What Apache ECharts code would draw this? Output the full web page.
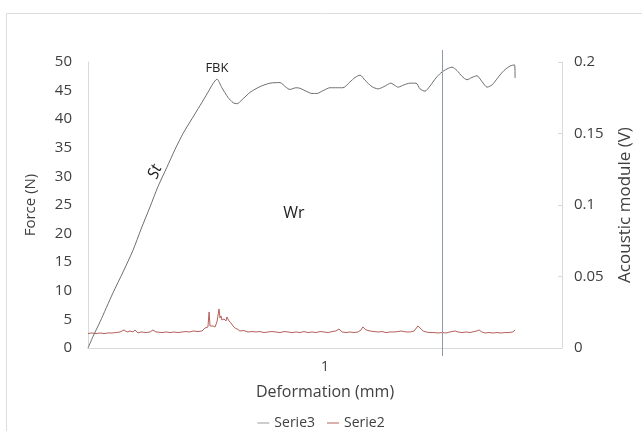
<!DOCTYPE html>
<html>
<head>
<meta charset="utf-8">
<script src="https://cdn.jsdelivr.net/npm/echarts@6/dist/echarts.min.js"></script>
<style>
html,body{margin:0;padding:0;background:#fff;}
#c{width:642px;height:431px;}
</style>
</head>
<body>
<div id="c"></div>
<script>
// Deformation (mm, axis units) and Force (N) — Serie3
const forceDef = [0.000,0.021,0.051,0.105,0.148,0.190,0.224,0.262,0.295,0.333,0.367,0.401,0.439,0.473,0.506,0.527,0.544,0.565,0.591,0.612,0.629,0.650,0.684,0.726,0.768,0.810,0.835,0.852,0.878,0.895,0.920,0.945,0.966,0.992,1.021,1.046,1.076,1.105,1.127,1.148,1.169,1.198,1.224,1.249,1.278,1.295,1.308,1.333,1.359,1.384,1.401,1.422,1.443,1.468,1.489,1.515,1.536,1.557,1.578,1.599,1.620,1.641,1.662,1.684,1.705,1.730,1.755,1.781,1.800,1.802];
const forceVal = [0.0,2.0,4.6,9.6,13.3,17.1,20.8,24.7,28.2,31.6,34.7,37.5,40.1,42.4,44.7,46.2,47.0,45.5,43.8,42.9,42.7,43.4,44.7,45.7,46.3,46.4,45.6,45.2,45.5,45.4,44.9,44.5,44.5,45.0,45.5,45.5,45.5,46.5,47.3,47.7,46.8,45.7,45.3,45.7,46.3,45.9,45.6,46.0,46.3,46.3,45.3,44.9,45.8,47.2,48.1,48.8,49.1,48.5,47.5,46.9,47.3,47.6,46.6,45.6,46.0,47.3,48.5,49.3,49.5,47.2];

// Deformation and Acoustic module (V) — Serie2
const acDef = [0.000,0.017,0.034,0.051,0.068,0.084,0.101,0.118,0.135,0.143,0.152,0.165,0.177,0.190,0.198,0.211,0.224,0.232,0.245,0.262,0.274,0.287,0.295,0.312,0.329,0.346,0.363,0.380,0.397,0.414,0.430,0.443,0.451,0.464,0.481,0.494,0.502,0.506,0.511,0.515,0.519,0.527,0.536,0.544,0.553,0.557,0.561,0.565,0.574,0.582,0.586,0.595,0.603,0.612,0.620,0.629,0.641,0.658,0.675,0.692,0.709,0.726,0.743,0.759,0.776,0.793,0.810,0.827,0.844,0.861,0.878,0.895,0.911,0.928,0.945,0.962,0.979,0.996,1.013,1.030,1.046,1.059,1.072,1.089,1.105,1.122,1.139,1.152,1.160,1.173,1.190,1.207,1.224,1.241,1.257,1.274,1.291,1.308,1.321,1.329,1.342,1.359,1.376,1.384,1.392,1.401,1.414,1.426,1.443,1.460,1.477,1.494,1.511,1.527,1.549,1.561,1.578,1.595,1.612,1.629,1.641,1.650,1.662,1.675,1.692,1.709,1.726,1.743,1.759,1.776,1.793,1.802];
const acVal = [0.0101,0.0105,0.0101,0.0105,0.0101,0.0105,0.0105,0.0108,0.0112,0.0119,0.0126,0.0112,0.0119,0.0112,0.0126,0.0105,0.0112,0.0119,0.0108,0.0112,0.0126,0.0112,0.0105,0.0108,0.0112,0.0108,0.0112,0.0108,0.0112,0.0115,0.0112,0.0119,0.0126,0.0115,0.0119,0.0140,0.0133,0.0147,0.0252,0.0154,0.0147,0.0154,0.0147,0.0182,0.0273,0.0210,0.0224,0.0196,0.0203,0.0189,0.0217,0.0189,0.0175,0.0154,0.0140,0.0133,0.0119,0.0122,0.0112,0.0115,0.0112,0.0115,0.0108,0.0112,0.0115,0.0112,0.0108,0.0115,0.0112,0.0108,0.0112,0.0108,0.0115,0.0108,0.0112,0.0108,0.0115,0.0112,0.0108,0.0115,0.0119,0.0133,0.0112,0.0108,0.0112,0.0108,0.0112,0.0126,0.0147,0.0126,0.0119,0.0115,0.0112,0.0115,0.0108,0.0112,0.0112,0.0115,0.0119,0.0126,0.0112,0.0112,0.0119,0.0126,0.0154,0.0140,0.0119,0.0112,0.0108,0.0108,0.0105,0.0108,0.0105,0.0112,0.0119,0.0112,0.0108,0.0112,0.0108,0.0115,0.0119,0.0126,0.0112,0.0105,0.0108,0.0105,0.0108,0.0105,0.0108,0.0108,0.0112,0.0126];

const markerDef = 1.492;
const xLabels = {1: '1'};
const leftTicks = {min: 0, max: 50, interval: 5};
const rightTicks = {min: 0, max: 0.2, interval: 0.05};

const FONT = '"Open Sans", "Noto Sans", sans-serif';
const TXT = '#404040';

const chart = echarts.init(document.getElementById('c'), null, {renderer: 'canvas'});
const zip = (a, b) => a.map((v, i) => [v, b[i]]);

chart.setOption({
  animation: false,
  backgroundColor: '#fff',
  textStyle: {fontFamily: FONT},
  grid: {left: 88, right: 79, top: 62, bottom: 83, containLabel: false},
  legend: {
    data: ['Serie3', 'Serie2'],
    left: 'center', top: 411,
    icon: 'rect', itemWidth: 12, itemHeight: 1, itemGap: 12,
    textStyle: {fontFamily: FONT, fontSize: 14, color: TXT}
  },
  xAxis: {
    type: 'value', min: 0, max: 2, interval: 1,
    name: 'Deformation (mm)', nameLocation: 'middle', nameGap: 36,
    nameTextStyle: {fontFamily: FONT, fontSize: 16, color: TXT},
    axisLine: {show: true, lineStyle: {color: '#d9d9d9', width: 1}},
    axisTick: {show: false},
    splitLine: {show: false},
    axisLabel: {fontFamily: FONT, fontSize: 14, color: TXT, margin: 12,
      formatter: v => xLabels[v] || ''}
  },
  yAxis: [{
    type: 'value', min: leftTicks.min, max: leftTicks.max, interval: leftTicks.interval,
    name: 'Force (N)', nameLocation: 'middle', nameGap: 50,
    nameTextStyle: {fontFamily: FONT, fontSize: 15, color: TXT},
    axisLine: {show: true, lineStyle: {color: '#d9d9d9'}},
    axisTick: {show: false},
    splitLine: {show: false},
    axisLabel: {fontFamily: FONT, fontSize: 15, color: TXT, margin: 16}
  }, {
    type: 'value', min: rightTicks.min, max: rightTicks.max, interval: rightTicks.interval,
    position: 'right',
    name: 'Acoustic module (V)', nameLocation: 'middle', nameGap: 55,
    nameTextStyle: {fontFamily: FONT, fontSize: 17, color: TXT},
    axisLine: {show: true, lineStyle: {color: '#d9d9d9'}},
    axisTick: {show: true, inside: true, length: 4, lineStyle: {color: '#d9d9d9'}},
    splitLine: {show: false},
    axisLabel: {fontFamily: FONT, fontSize: 15, color: TXT, margin: 12}
  }],
  series: [{
    name: 'Serie3', type: 'line', yAxisIndex: 0,
    data: zip(forceDef, forceVal), showSymbol: false, symbol: 'none', smooth: 0.25,
    lineStyle: {color: '#6e6e6e', width: 1}, itemStyle: {color: '#9a9a9a'}, z: 3
  }, {
    name: 'Serie2', type: 'line', yAxisIndex: 1,
    data: zip(acDef, acVal), showSymbol: false, symbol: 'none',
    lineStyle: {color: '#b5605c', width: 1}, itemStyle: {color: '#b5605c'}, z: 2
  }]
});

const px = (x, y) => chart.convertToPixel({xAxisIndex: 0, yAxisIndex: 0}, [x, y]);
const mX = px(markerDef, 0)[0];
const fbk = px(0.544, 48.9);
const st = px(0.283, 30.8);
const wr = px(0.869, 23.6);

chart.setOption({
  graphic: [
    {type: 'rect', shape: {x: 6.5, y: 13.5, width: 700, height: 500}, style: {fill: 'none', stroke: '#dcdcdc', lineWidth: 1}, z: -1, silent: true},
    {type: 'line', shape: {x1: Math.round(mX) + 0.5, y1: 50, x2: Math.round(mX) + 0.5, y2: 356}, style: {stroke: '#8e99ab', lineWidth: 1}, z: 10},
    {type: 'text', x: fbk[0], y: fbk[1], style: {text: 'FBK', fontFamily: FONT, fontSize: 13, fill: '#222', align: 'center', verticalAlign: 'middle'}, z: 10},
    {type: 'text', x: st[0], y: st[1], rotation: 67 * Math.PI / 180, style: {text: 'St', fontFamily: FONT, fontSize: 16, fontStyle: 'italic', fill: '#222', align: 'center', verticalAlign: 'middle'}, z: 10},
    {type: 'text', x: wr[0], y: wr[1], style: {text: 'Wr', fontFamily: FONT, fontSize: 16, fill: '#222', align: 'center', verticalAlign: 'middle'}, z: 10}
  ]
});
</script>
</body>
</html>
